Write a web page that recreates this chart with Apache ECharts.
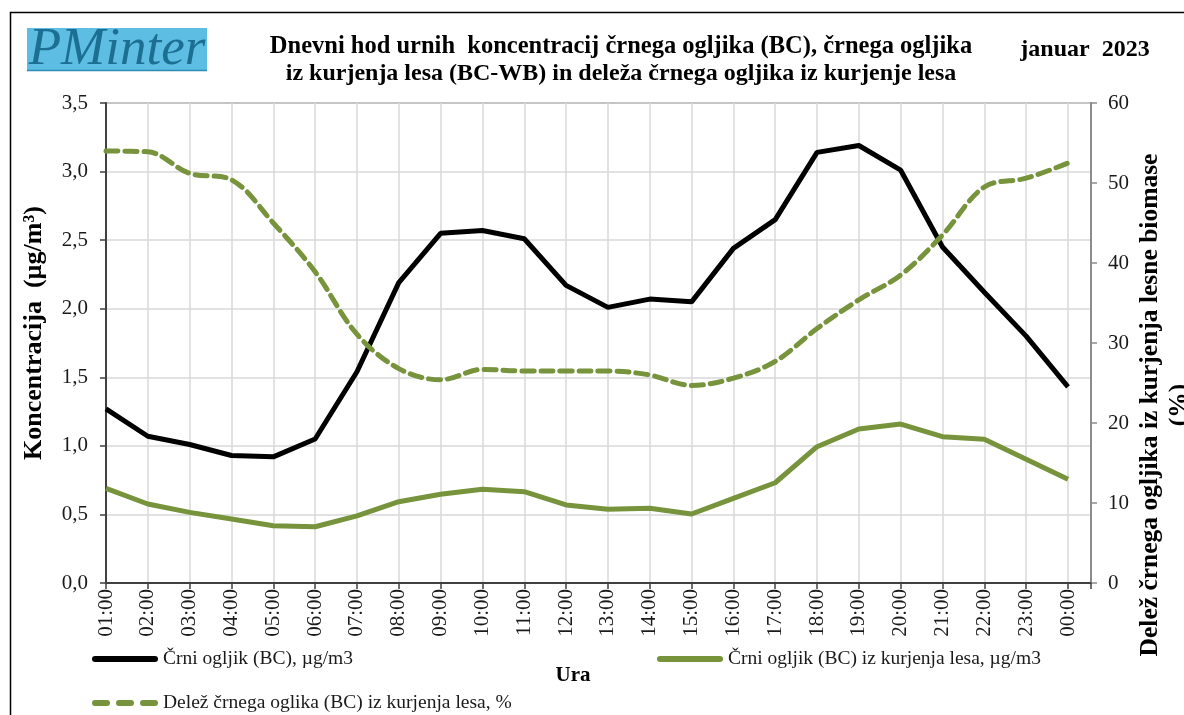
<!DOCTYPE html>
<html>
<head>
<meta charset="utf-8">
<script src="https://cdn.jsdelivr.net/npm/echarts@6/dist/echarts.min.js"></script>
<style>
  html, body { margin: 0; padding: 0; background: #fff; }
  #main { width: 1184px; height: 715px; }
</style>
</head>
<body>
<div id="main"></div>
<script>
// ure (kategorije x osi)
var hours = ['01:00', '02:00', '03:00', '04:00', '05:00', '06:00', '07:00', '08:00',
  '09:00', '10:00', '11:00', '12:00', '13:00', '14:00', '15:00', '16:00',
  '17:00', '18:00', '19:00', '20:00', '21:00', '22:00', '23:00', '00:00']

// Črni ogljik (BC), µg/m3
var bc = [1.27, 1.07, 1.01, 0.93, 0.92, 1.05, 1.54, 2.19, 2.55, 2.57, 2.51, 2.17,
  2.01, 2.07, 2.05, 2.44, 2.65, 3.14, 3.19, 3.01, 2.45, 2.12, 1.80, 1.43]

// Črni ogljik (BC) iz kurjenja lesa, µg/m3
var bcWb = [0.69, 0.576, 0.515, 0.467, 0.418, 0.41, 0.49, 0.593, 0.647, 0.683, 0.666, 0.569,
  0.537, 0.545, 0.503, 0.617, 0.731, 0.994, 1.123, 1.159, 1.067, 1.048, 0.902, 0.756]

// Delež črnega ogljika iz kurjenja lesa, %
var delez = [54.0, 53.9, 51.2, 50.4, 45.0, 38.9, 31.1, 26.8, 25.4, 26.7, 26.5, 26.5,
  26.5, 26.0, 24.7, 25.6, 27.7, 31.8, 35.4, 38.5, 43.5, 49.5, 50.6, 52.5]

var leftTicks = [0, 0.5, 1, 1.5, 2, 2.5, 3, 3.5]
var rightTicks = [0, 10, 20, 30, 40, 50, 60]

var names = ['Črni ogljik (BC), µg/m3', 'Črni ogljik (BC) iz kurjenja lesa, µg/m3',
  'Delež črnega oglika (BC) iz kurjenja lesa, %']

// pari [indeks, vrednost] za vrednostno x os
function pairs (arr) {
  var out = []
  for (var i = 0; i < arr.length; i++) { out.push([i, arr[i]]) }
  return out
}

var serif = '"Liberation Serif", "Times New Roman", serif'
var green = '#77933c'
// ikone legende (polna in črtkana črta)
var solidIcon = 'path://M3,0 L63,0 A3,3 0 0 1 63,6 L3,6 A3,3 0 0 1 3,0 Z'
var dashIcon = 'path://M3,0 L15,0 A3,3 0 0 1 15,6 L3,6 A3,3 0 0 1 3,0 Z ' +
  'M27,0 L39,0 A3,3 0 0 1 39,6 L27,6 A3,3 0 0 1 27,0 Z ' +
  'M51,0 L63,0 A3,3 0 0 1 63,6 L51,6 A3,3 0 0 1 51,0 Z'
var legendText = { fontSize: 19.5, fontFamily: serif, color: '#1a1a1a' }

var myChart = echarts.init(document.getElementById('main'), null, { renderer: 'canvas' })

var option = {
  backgroundColor: '#fff',
  animation: false,
  textStyle: { fontFamily: serif },
  grid: {
    left: 106, right: 93, top: 103, bottom: 132,
    show: true, borderColor: '#8c8c8c', borderWidth: 2, backgroundColor: 'transparent'
  },
  xAxis: {
    type: 'value',
    min: 0,
    max: 23.55,
    interval: 1,
    axisLine: { show: true, onZero: false, lineStyle: { color: '#404040', width: 2 } },
    axisTick: { show: true, length: 6, lineStyle: { color: '#404040', width: 1.5 } },
    axisLabel: {
      rotate: 90,
      fontSize: 21,
      color: '#1a1a1a',
      fontFamily: serif,
      margin: 6,
      formatter: function (v) { return Number.isInteger(v) ? hours[v] : '' }
    },
    splitLine: { show: true, lineStyle: { color: '#d9d9d9', width: 1.5 } }
  },
  yAxis: [
    {
      type: 'value',
      min: leftTicks[0],
      max: leftTicks[leftTicks.length - 1],
      interval: 0.5,
      axisLine: { show: true, lineStyle: { color: '#404040', width: 2 } },
      axisTick: { show: true, length: 6, lineStyle: { color: '#404040', width: 1.5 } },
      axisLabel: {
        fontSize: 21,
        color: '#1a1a1a',
        fontFamily: serif,
        margin: 18,
        formatter: function (v) { return v.toFixed(1).replace('.', ',') }
      },
      splitLine: { show: true, lineStyle: { color: '#d9d9d9', width: 1.5 } }
    },
    {
      type: 'value',
      position: 'right',
      min: rightTicks[0],
      max: rightTicks[rightTicks.length - 1],
      interval: 10,
      axisLine: { show: true, lineStyle: { color: '#8c8c8c', width: 2 } },
      axisTick: { show: true, length: 6, lineStyle: { color: '#8c8c8c', width: 1.5 } },
      axisLabel: { fontSize: 21, color: '#1a1a1a', fontFamily: serif, margin: 17 },
      splitLine: { show: false }
    }
  ],
  legend: [
    {
      data: [{ name: names[0], icon: solidIcon }], left: 92, top: 649, padding: 0,
      itemWidth: 66, itemHeight: 6, textStyle: legendText
    },
    {
      data: [{ name: names[1], icon: solidIcon }], left: 657, top: 649, padding: 0,
      itemWidth: 66, itemHeight: 6, textStyle: legendText
    },
    {
      data: [{ name: names[2], icon: dashIcon }], left: 92, top: 693, padding: 0,
      itemWidth: 66, itemHeight: 6, textStyle: legendText
    }
  ],
  series: [
    {
      name: names[0],
      type: 'line',
      yAxisIndex: 0,
      data: pairs(bc),
      symbol: 'none',
      itemStyle: { color: '#000' },
      lineStyle: { color: '#000', width: 5 }
    },
    {
      name: names[1],
      type: 'line',
      yAxisIndex: 0,
      data: pairs(bcWb),
      symbol: 'none',
      itemStyle: { color: green },
      lineStyle: { color: green, width: 5 }
    },
    {
      name: names[2],
      type: 'line',
      yAxisIndex: 1,
      data: pairs(delez),
      symbol: 'none',
      smooth: 0.35,
      itemStyle: { color: green },
      lineStyle: { color: green, width: 5, type: [12, 7], cap: 'round' }
    }
  ],
  graphic: [
    // okvir
    {
      type: 'rect', left: 8, top: 10, z: -1,
      shape: { width: 1200, height: 720 },
      style: { fill: 'none', stroke: '#000', lineWidth: 1.5 }
    },
    // logo
    {
      type: 'rect', left: 27, top: 28,
      shape: { width: 180, height: 43 },
      style: { fill: '#5dbde2' }
    },
    {
      type: 'line', shape: { x1: 27, y1: 70.5, x2: 207, y2: 70.5 },
      style: { stroke: '#2f8cb5', lineWidth: 1.5 }
    },
    {
      type: 'text', x: 117, y: 50,
      style: {
        text: 'PMinter', fill: '#1c6f93', font: 'italic 53px ' + serif,
        align: 'center', verticalAlign: 'middle'
      }
    },
    // naslov
    {
      type: 'text', x: 621, y: 47,
      style: {
        text: 'Dnevni hod urnih  koncentracij črnega ogljika (BC), črnega ogljika',
        fill: '#000', font: 'bold 24.5px ' + serif, align: 'center', verticalAlign: 'middle'
      }
    },
    {
      type: 'text', x: 621, y: 74,
      style: {
        text: 'iz kurjenja lesa (BC-WB) in deleža črnega ogljika iz kurjenje lesa',
        fill: '#000', font: 'bold 24px ' + serif, align: 'center', verticalAlign: 'middle'
      }
    },
    {
      type: 'text', x: 1085, y: 50,
      style: {
        text: 'januar  2023', fill: '#000', font: 'bold 24px ' + serif,
        align: 'center', verticalAlign: 'middle'
      }
    },
    // naslovi osi
    {
      type: 'text', x: 34, y: 333, rotation: Math.PI / 2,
      style: {
        text: 'Koncentracija  (µg/m³)', fill: '#000', font: 'bold 26px ' + serif,
        align: 'center', verticalAlign: 'middle'
      }
    },
    {
      type: 'text', x: 1165, y: 405, rotation: Math.PI / 2,
      style: {
        text: 'Delež črnega ogljika iz kurjenja lesne biomase\n(%)', fill: '#000',
        font: 'bold 25.5px ' + serif, align: 'center', verticalAlign: 'middle', lineHeight: 29
      }
    },
    {
      type: 'text', x: 573, y: 676,
      style: {
        text: 'Ura', fill: '#000', font: 'bold 21px ' + serif,
        align: 'center', verticalAlign: 'middle'
      }
    }
  ]
}

myChart.setOption(option)
</script>
</body>
</html>
